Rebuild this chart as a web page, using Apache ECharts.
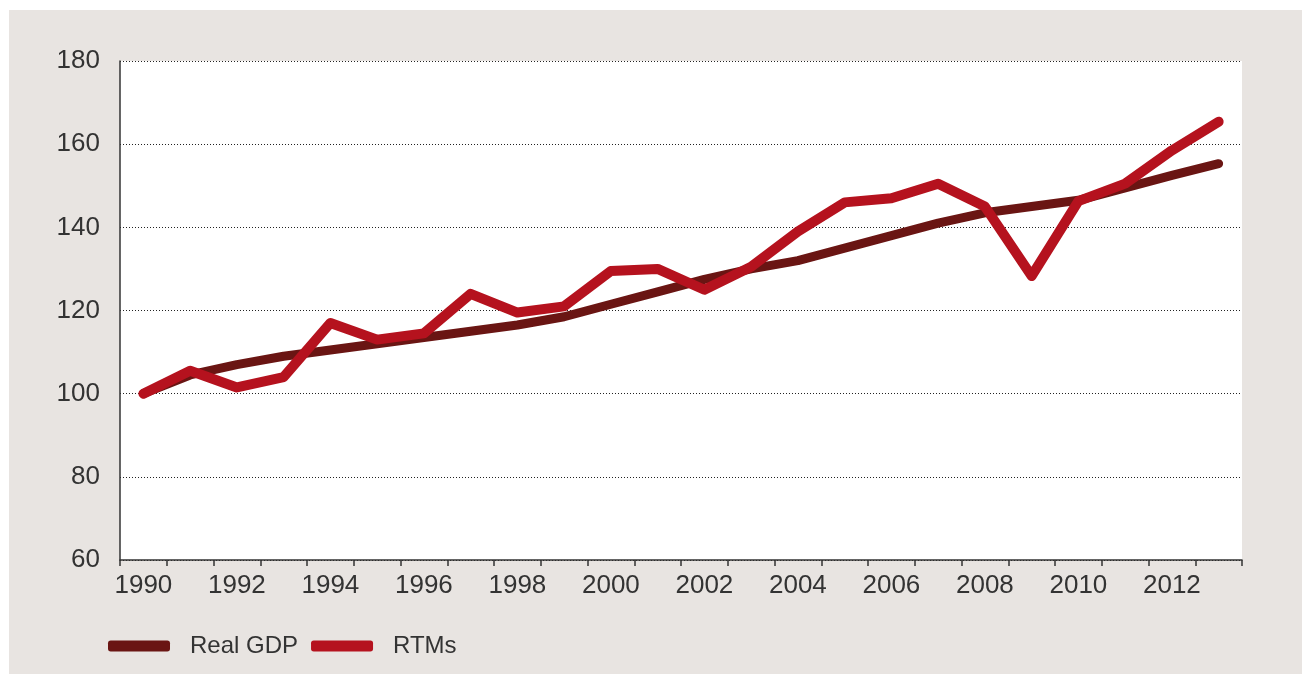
<!DOCTYPE html>
<html>
<head>
<meta charset="utf-8">
<script src="https://cdn.jsdelivr.net/npm/echarts@6/dist/echarts.min.js"></script>
<style>
  html, body { margin: 0; padding: 0; background: #fff; }
  #frame { position: absolute; left: 9px; top: 10px; right: 0; bottom: 0; background: #e8e4e1; }
  #chart { position: absolute; left: 0; top: 0; width: 1302px; height: 674px; }
</style>
</head>
<body>
<div id="frame"></div>
<div id="chart"></div>
<script>
const years = ['1990','1991','1992','1993','1994','1995','1996','1997','1998','1999','2000','2001',
  '2002','2003','2004','2005','2006','2007','2008','2009','2010','2011','2012','2013']
const realGdp = [100, 104.5, 107, 109, 110.5, 112, 113.5, 115, 116.5, 118.5, 121.5, 124.5,
  127.5, 130, 132, 135, 138, 141, 143.5, 145, 146.5, 149.5, 152.5, 155.3]
const rtms = [100, 105.5, 101.5, 104, 117, 113, 114.5, 124, 119.5, 121, 129.5, 130,
  125, 130.5, 139, 146, 147, 150.5, 145, 128.3, 146.3, 150.5, 158.5, 165.4]

const font = 'Liberation Sans'
const chart = echarts.init(document.getElementById('chart'), null, { renderer: 'canvas' })

chart.setOption({
  backgroundColor: 'transparent',
  animation: false,
  textStyle: { fontFamily: font },
  grid: {
    left: 120, right: 60, top: 61, bottom: 114,
    show: true, backgroundColor: '#ffffff', borderWidth: 0
  },
  legend: {
    left: 103, top: 629,
    itemWidth: 62, itemHeight: 11, itemGap: 13,
    icon: 'roundRect',
    textStyle: { fontSize: 24, color: '#333', fontFamily: font, padding: [0, 0, 0, 15] },
    data: ['Real GDP', 'RTMs']
  },
  xAxis: {
    type: 'category',
    data: years,
    boundaryGap: true,
    axisLine: { lineStyle: { color: '#333', width: 1.5 } },
    axisTick: { show: true, interval: 0, length: 6, lineStyle: { color: '#333', width: 1.5 } },
    axisLabel: { interval: 1, fontSize: 26, color: '#333', margin: 13, fontFamily: font },
    splitLine: { show: false }
  },
  yAxis: {
    type: 'value',
    min: 60, max: 180, interval: 20,
    axisLine: { show: true, lineStyle: { color: '#333', width: 1.5 } },
    axisTick: { show: false },
    axisLabel: { fontSize: 26, color: '#333', margin: 20, fontFamily: font },
    splitLine: { lineStyle: { color: '#222', type: [1, 2], width: 1 } }
  },
  series: [
    {
      name: 'Real GDP', type: 'line', data: realGdp,
      symbol: 'none', color: '#6a1513',
      lineStyle: { width: 9, cap: 'round', join: 'round' }
    },
    {
      name: 'RTMs', type: 'line', data: rtms,
      symbol: 'none', color: '#b5121e',
      lineStyle: { width: 10, cap: 'round', join: 'round' }
    }
  ]
})
</script>
</body>
</html>
